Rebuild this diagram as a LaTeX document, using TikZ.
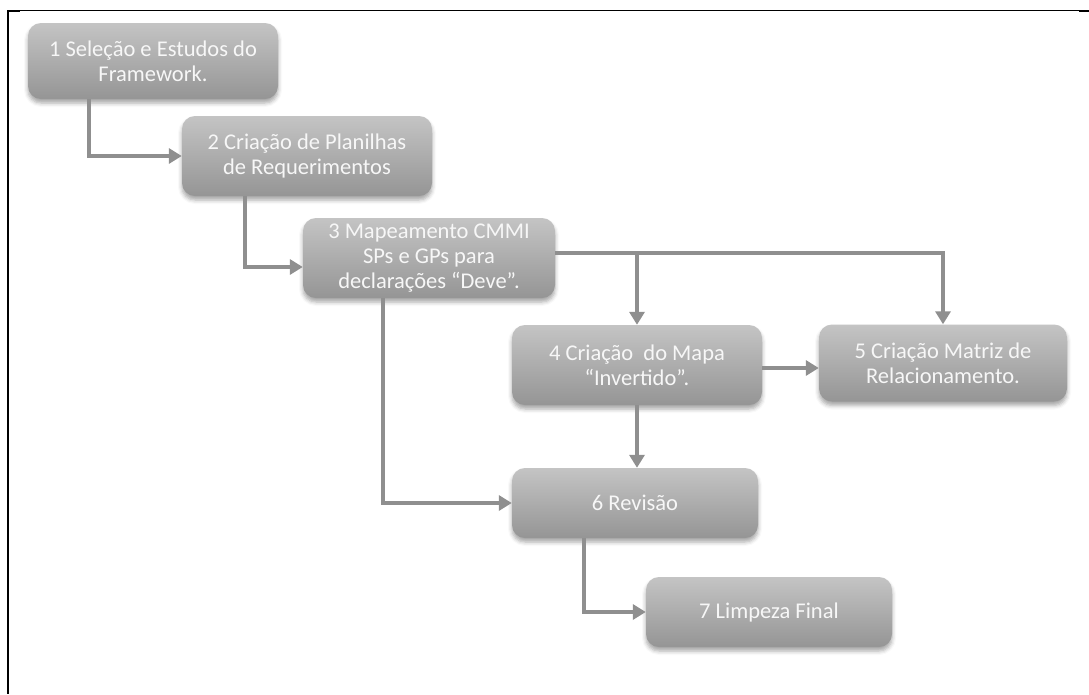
\documentclass[tikz,border=0pt]{standalone}
\usepackage{fontspec}
\setmainfont{Carlito}
\usetikzlibrary{arrows.meta,shadows.blur}
\definecolor{boxtop}{HTML}{C4C4C4}
\definecolor{boxbot}{HTML}{959595}
\definecolor{linkc}{HTML}{8F8F8F}
\begin{document}
\begin{tikzpicture}[x=1pt,y=-1pt,
  stepbox/.style={rounded corners=13pt, top color=boxtop, bottom color=boxbot, draw=none,
    text=white!97!black, font=\fontsize{22.5}{25}\selectfont, align=center, inner sep=0pt,
    minimum width=250pt, minimum height=76pt,
    blur shadow={shadow xshift=0pt, shadow yshift=-4pt, shadow blur radius=4pt, shadow opacity=35}},
  link/.style={draw=linkc, line width=4.5pt, -{Triangle[length=13pt,width=15pt]}},
  frame/.style={draw=black, line width=1pt}]
\useasboundingbox (0,0) rectangle (1089,694);
% frame
\draw[frame] (8,10) -- (1089,10);
\draw[black, line width=2.2pt] (8,10) -- (8,694);
\draw[black, line width=2pt] (8,11) -- (20,11);
\draw[black, line width=2pt] (1079,11) -- (1089,11);

% boxes
\node[stepbox] (b1) at (153,61) {1 Seleção e Estudos do\\Framework.};
\node[stepbox, minimum height=80pt] (b2) at (307,156) {2 Criação de Planilhas\\de Requerimentos};
\node[stepbox, minimum width=252pt, minimum height=80pt] (b3) at (429,258) {3 Mapeamento CMMI\\SPs e GPs para\\declarações “Deve”.};
\node[stepbox, minimum height=80pt] (b4) at (637,365) {4 Criação~ do Mapa\\“Invertido”.};
\node[stepbox, minimum width=248pt, minimum height=77pt] (b5) at (943,363) {5 Criação Matriz de\\Relacionamento.};
\node[stepbox, minimum width=246pt, minimum height=70pt] (b6) at (635,503) {6 Revisão};
\node[stepbox, minimum width=246pt, minimum height=70pt] (b7) at (769,612) {7 Limpeza Final};

% connectors
\draw[link] ([xshift=61pt]b1.south west) |- (b2.west);
\draw[link] ([xshift=63pt]b2.south west) |- ([yshift=-9pt]b3.west);
\coordinate (b3r) at ([yshift=5pt]b3.east);
\draw[link] (b3r) -| (b5.north);
\draw[link] (b4.north |- b3r) -- (b4.north);
\draw[link] (b4.east |- 0,368) -- (b5.west |- 0,368);
\draw[link] (b4.south) -- (b6.north -| b4.south);
\draw[link] ([xshift=80pt]b3.south west) |- (b6.west);
\draw[link] ([xshift=72pt]b6.south west) |- (b7.west);
\end{tikzpicture}
\end{document}
